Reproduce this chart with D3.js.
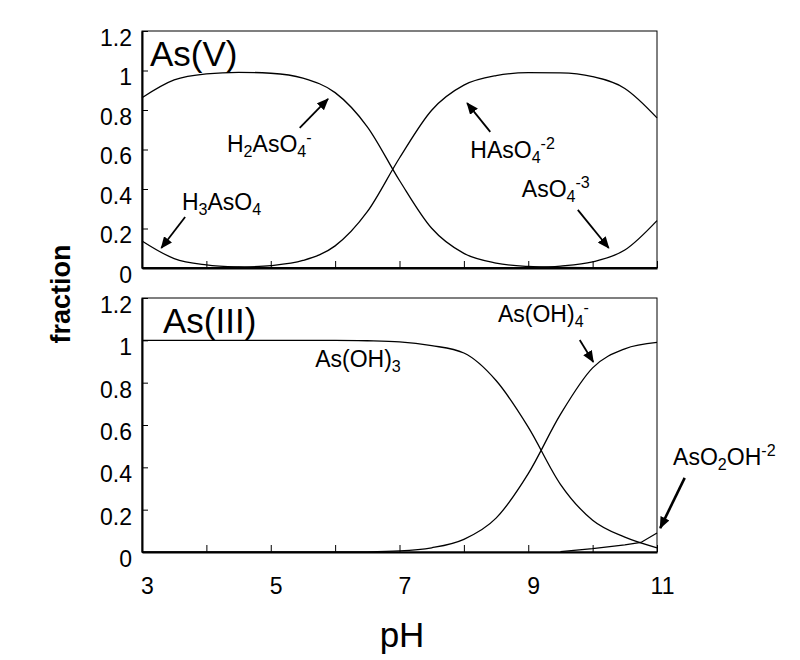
<!DOCTYPE html>
<html>
<head>
<meta charset="utf-8">
<script src="https://cdn.jsdelivr.net/npm/d3@7"></script>
<style>
  html, body { margin: 0; padding: 0; background: #fff; }
  svg text { font-family: Arial, "Liberation Sans", sans-serif; fill: #000; }
</style>
</head>
<body>
<svg id="chart" width="800" height="660"></svg>
<script>
// ---------- data ----------
const pH = [3, 3.5, 4, 4.5, 5, 5.5, 6, 6.5, 7, 7.5, 8, 8.5, 9, 9.5, 10, 10.5, 11];

// As(V) species fractions
const H3AsO4  = [0.137, 0.048, 0.016, 0.005, 0.002, 0.0005, 0, 0, 0, 0, 0, 0, 0, 0, 0, 0, 0];
const H2AsO4  = [0.862, 0.952, 0.983, 0.991, 0.986, 0.961, 0.888, 0.715, 0.443, 0.201, 0.074, 0.025, 0.008, 0.003, 0.001, 0, 0];
const HAsO4   = [0, 0, 0.001, 0.004, 0.012, 0.038, 0.112, 0.285, 0.557, 0.799, 0.926, 0.974, 0.989, 0.988, 0.969, 0.909, 0.760];
const AsO4    = [0, 0, 0, 0, 0, 0, 0, 0, 0, 0, 0, 0.001, 0.003, 0.010, 0.031, 0.091, 0.240];

// As(III) species fractions
const AsOH3   = [1, 1, 1, 1, 1, 1, 1, 0.998, 0.993, 0.975, 0.94, 0.81, 0.59, 0.32, 0.15, 0.07, 0.02];
const AsOH4   = [0, 0, 0, 0, 0, 0, 0, 0.001, 0.005, 0.02, 0.06, 0.16, 0.37, 0.65, 0.87, 0.96, 0.99];
const pH_AsO2OH = [9.5, 10, 10.5, 10.75, 11];
const AsO2OH  = [0.002, 0.016, 0.034, 0.045, 0.09];

const xTicks = [3, 4, 5, 6, 7, 8, 9, 10, 11];
const xTickLabels = ["3", "", "5", "", "7", "", "9", "", "11"];
const yTicks = [0, 0.2, 0.4, 0.6, 0.8, 1, 1.2];
const yTickLabels = ["0", "0.2", "0.4", "0.6", "0.8", "1", "1.2"];

// ---------- layout ----------
const svg = d3.select("#chart");
const left = 142, right = 657;
const panels = [
  { top: 31, bottom: 268, title: "As(V)", titlePos: [150, 66], series: [H3AsO4, H2AsO4, HAsO4, AsO4], xLabels: false },
  { top: 298, bottom: 552, title: "As(III)", titlePos: [163, 333], series: [AsOH3, AsOH4], xLabels: true }
];

const x = d3.scaleLinear().domain([3, 11]).range([left, right]);

svg.append("defs").append("marker")
  .attr("id", "arrow")
  .attr("markerUnits", "userSpaceOnUse")
  .attr("viewBox", "0 0 12 10")
  .attr("refX", 11).attr("refY", 5)
  .attr("markerWidth", 12).attr("markerHeight", 10)
  .attr("orient", "auto")
  .append("path").attr("d", "M0,0 L12,5 L0,10 Z").attr("fill", "#000");

function richText(g, parts, px, py, size, anchor) {
  const t = g.append("text").attr("x", px).attr("y", py)
    .attr("font-size", size).attr("text-anchor", anchor || "start");
  let shift = 0;
  parts.forEach(p => {
    const target = p.s === "sub" ? size * 0.22 : p.s === "sup" ? -size * 0.38 : 0;
    const ts = t.append("tspan").text(p.t).attr("dy", target - shift);
    if (p.s) ts.attr("font-size", size * 0.7);
    shift = target;
  });
  return t;
}

const scales = [];
panels.forEach((p, i) => {
  const y = d3.scaleLinear().domain([0, 1.2]).range([p.bottom, p.top]);
  scales.push(y);
  const g = svg.append("g");

  // frame
  g.append("rect").attr("x", left).attr("y", p.top)
    .attr("width", right - left).attr("height", p.bottom - p.top)
    .attr("fill", "none").attr("stroke", "#000").attr("stroke-width", 1);

  // y axis
  const ya = g.append("g").attr("transform", `translate(${left},0)`)
    .call(d3.axisLeft(y).tickValues(yTicks)
      .tickFormat((d, k) => yTickLabels[k]).tickSizeInner(-6).tickSizeOuter(0).tickPadding(10));
  ya.select(".domain").attr("stroke-width", 2);
  ya.selectAll("text").attr("font-size", 23).attr("font-family", null).attr("y", 7);

  // x axis
  const xa = g.append("g").attr("transform", `translate(0,${p.bottom})`)
    .call(d3.axisBottom(x).tickValues(xTicks)
      .tickFormat((d, k) => p.xLabels ? xTickLabels[k] : "").tickSizeInner(-7).tickSizeOuter(0).tickPadding(26));
  xa.select(".domain").attr("stroke-width", 2);
  xa.selectAll("text").attr("font-size", 23).attr("font-family", null).attr("x", 5);

  // curves
  const line = d3.line().x((d, k) => x(pH[k])).y(d => y(d)).curve(d3.curveMonotoneX);
  p.series.forEach(s => {
    g.append("path").attr("d", line(s)).attr("fill", "none")
      .attr("stroke", "#000").attr("stroke-width", 1.3);
  });

  // title
  g.append("text").attr("x", p.titlePos[0]).attr("y", p.titlePos[1])
    .attr("font-size", 35).text(p.title);
});

// extra As(III) series
{
  const y = scales[1];
  const line = d3.line().x((d, k) => x(pH_AsO2OH[k])).y(d => y(d));
  svg.append("path").attr("d", line(AsO2OH)).attr("fill", "none")
    .attr("stroke", "#000").attr("stroke-width", 1.3);
}

// ---------- annotations (in data coordinates) ----------
const annotations = [
  { panel: 0, parts: [{t:"H"},{t:"3",s:"sub"},{t:"AsO"},{t:"4",s:"sub"}], at: [3.62, 0.294], arrow: [[3.67, 0.258], [3.30, 0.101]] },
  { panel: 0, parts: [{t:"H"},{t:"2",s:"sub"},{t:"AsO"},{t:"4",s:"sub"},{t:"-",s:"sup"}], at: [4.32, 0.587], arrow: [[5.45, 0.709], [5.89, 0.856]] },
  { panel: 0, parts: [{t:"HAsO"},{t:"4",s:"sub"},{t:"-2",s:"sup"}], at: [8.10, 0.557], arrow: [[8.41, 0.689], [8.05, 0.835]] },
  { panel: 0, parts: [{t:"AsO"},{t:"4",s:"sub"},{t:"-3",s:"sup"}], at: [8.90, 0.359], arrow: [[9.77, 0.294], [10.25, 0.101]] },
  { panel: 1, parts: [{t:"As(OH)"},{t:"3",s:"sub"}], at: [5.69, 0.874], arrow: null },
  { panel: 1, parts: [{t:"As(OH)"},{t:"4",s:"sub"},{t:"-",s:"sup"}], at: [8.53, 1.087], arrow: [[9.80, 1.002], [10.01, 0.898]] },
  { panel: 1, parts: [{t:"AsO"},{t:"2",s:"sub"},{t:"OH"},{t:"-2",s:"sup"}], at: [11.25, 0.411], arrow: [[11.43, 0.350], [11.05, 0.113]], thick: true }
];

const ag = svg.append("g");
annotations.forEach(a => {
  const y = scales[a.panel];
  richText(ag, a.parts, x(a.at[0]), y(a.at[1]), 23);
  if (a.arrow) {
    ag.append("line")
      .attr("x1", x(a.arrow[0][0])).attr("y1", y(a.arrow[0][1]))
      .attr("x2", x(a.arrow[1][0])).attr("y2", y(a.arrow[1][1]))
      .attr("stroke", "#000").attr("stroke-width", a.thick ? 2.6 : 1.8)
      .attr("marker-end", "url(#arrow)");
  }
});

// axis titles
svg.append("text").attr("transform", "translate(70,294) rotate(-90)")
  .attr("text-anchor", "middle").attr("font-size", 27).attr("font-weight", "bold").text("fraction");
svg.append("text").attr("x", 402).attr("y", 647).attr("text-anchor", "middle")
  .attr("font-size", 35).text("pH");
</script>
</body>
</html>
